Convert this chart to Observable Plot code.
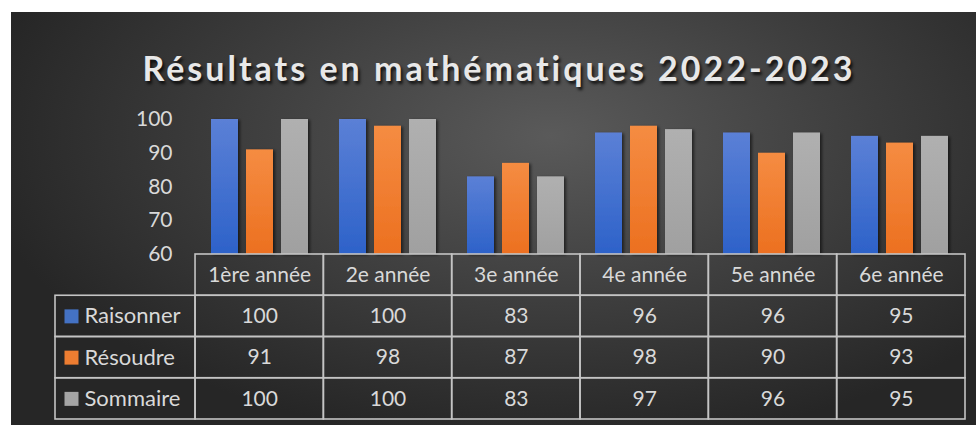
<!DOCTYPE html>
<html><head><meta charset="utf-8">
<script src="https://cdn.jsdelivr.net/npm/d3@7"></script>
<script src="https://cdn.jsdelivr.net/npm/@observablehq/plot@0.6"></script>
<style>
html,body{margin:0;padding:0;background:#fff;}
#page{position:relative;width:976px;height:425px;overflow:hidden;background:#fff;font-family:Lato,"Noto Sans",sans-serif;}
#bg{position:absolute;left:11px;top:12px;width:965px;height:413px;
  background:radial-gradient(ellipse 60% 75% at 56% 30%, #5a5a5a 0%, #3d3d3d 55%, #262626 100%);}
#title{position:absolute;left:0;top:47px;width:976px;padding-left:22px;box-sizing:border-box;text-align:center;
  font-family:Lato,sans-serif;font-weight:700;font-size:34px;letter-spacing:3px;color:#e8e8e8;
  text-shadow:2px 3px 3px rgba(0,0,0,0.75);}
.layer{position:absolute;left:0;top:0;}
</style></head>
<body>
<div id="page">
  <div id="bg"></div>
  <svg width="0" height="0" style="position:absolute">
    <defs>
      <linearGradient id="gBlue" x1="0" y1="0" x2="0" y2="1"><stop offset="0" stop-color="#5b80d6"/><stop offset="1" stop-color="#2d62c9"/></linearGradient>
      <linearGradient id="gOrange" x1="0" y1="0" x2="0" y2="1"><stop offset="0" stop-color="#f58c42"/><stop offset="1" stop-color="#ec7020"/></linearGradient>
      <linearGradient id="gGray" x1="0" y1="0" x2="0" y2="1"><stop offset="0" stop-color="#b0b0b0"/><stop offset="1" stop-color="#a0a0a0"/></linearGradient>
      <filter id="shadow" x="-20%" y="-5%" width="150%" height="110%"><feDropShadow dx="2" dy="1" stdDeviation="1.5" flood-color="#000" flood-opacity="0.55"/></filter>
    </defs>
  </svg>
  <div id="title">Résultats en mathématiques 2022-2023</div>
  <div id="bars" class="layer"></div>
  <div id="table" class="layer"></div>
</div>
<script>
const years = ["1ère année","2e année","3e année","4e année","5e année","6e année"];
const series = ["Raisonner","Résoudre","Sommaire"];
const raisonner = [100,100,83,96,96,95];
const resoudre = [91,98,87,98,90,93];
const sommaire = [100,100,83,97,96,95];
const yTicks = [60,70,80,90,100];
const seriesColors = ["#4472c4","#ed7d31","#a5a5a5"];
const seriesFills = ["url(#gBlue)","url(#gOrange)","url(#gGray)"];

const valuesBySeries = [raisonner, resoudre, sommaire];
const data = [];
years.forEach((yr,i)=>series.forEach((s,j)=>data.push({year:yr, series:s, value:valuesBySeries[j][i]})));

const textColor = "#d9d9d9";

const bars = Plot.plot({
  width:976, height:425,
  marginLeft:195, marginRight:11, marginTop:119, marginBottom:171,
  style:{background:"transparent", color:textColor, fontFamily:"Lato, 'Noto Sans', sans-serif", fontSize:"21px"},
  facet:{data, x:"year"},
  fx:{domain:years, padding:0, axis:null, label:null},
  x:{domain:series, paddingInner:0.222, paddingOuter:0.39, axis:null},
  y:{domain:[60,100], ticks:yTicks, tickSize:0, tickPadding:24, label:null},
  color:{domain:series, range:seriesFills},
  marks:[
    Plot.barY(data,{x:"series", y1:60, y2:"value", fill:"series"})
  ]
});
bars.querySelectorAll("rect").forEach(r=>{ const f = r.getAttribute("fill"); if (f && f.startsWith("url")) r.setAttribute("filter","url(#shadow)"); });
document.getElementById("bars").appendChild(bars);

// table
const headerSpan = 140/128.3;
const cells = [];
years.forEach((yr,i)=>cells.push({x1:i,x2:i+1,y1:0,y2:1,text:yr}));
series.forEach((s,r)=>years.forEach((yr,i)=>cells.push({x1:i,x2:i+1,y1:r+1,y2:r+2,text:String(valuesBySeries[r][i])})));
const rowHeads = series.map((s,r)=>({x1:-headerSpan,x2:0,y1:r+1,y2:r+2,text:s,color:seriesColors[r]}));

const table = Plot.plot({
  width:976, height:425,
  marginLeft:55, marginRight:11, marginTop:254, marginBottom:6,
  style:{background:"transparent", color:textColor, fontFamily:"Lato, 'Noto Sans', sans-serif"},
  x:{domain:[-headerSpan,6], axis:null},
  y:{domain:[0,4], reverse:true, axis:null},
  marks:[
    Plot.rect(cells.concat(rowHeads),{x1:"x1",x2:"x2",y1:"y1",y2:"y2",stroke:"#c4c4c4",strokeWidth:1.6,fill:"none"}),
    Plot.text(cells,{x:d=>(d.x1+d.x2)/2,y:d=>(d.y1+d.y2)/2,text:"text",fill:textColor,fontSize:21}),
    Plot.dot(rowHeads,{x:"x1",y:d=>(d.y1+d.y2)/2,symbol:"square",r:7.9,fill:"color",dx:16}),
    Plot.text(rowHeads,{x:"x1",y:d=>(d.y1+d.y2)/2,text:"text",textAnchor:"start",dx:29,fill:textColor,fontSize:22})
  ]
});
document.getElementById("table").appendChild(table);
</script>
</body></html>
